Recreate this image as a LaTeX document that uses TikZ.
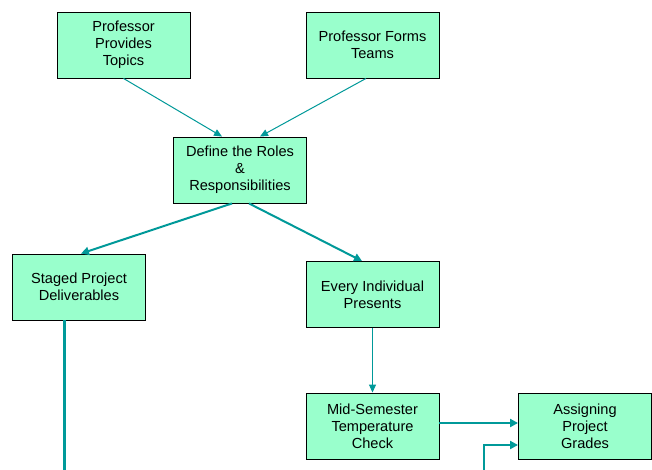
\documentclass[tikz,border=0pt]{standalone}
\usepackage{fontspec}
\setmainfont{Liberation Sans}
\usetikzlibrary{arrows.meta}
\definecolor{boxfill}{RGB}{153,255,204}
\definecolor{teal2}{RGB}{0,153,153}
\begin{document}
\begin{tikzpicture}[x=1pt,y=-1pt,
  box/.style={draw=black,line width=0.9pt,fill=boxfill,minimum width=133pt,minimum height=66pt,
    inner sep=0pt,align=center,font=\fontsize{14.6pt}{17pt}\selectfont},
  thinarr/.style={draw=teal2,line width=1pt,-{Triangle[length=8pt,width=7pt]}},
  thickarr/.style={draw=teal2,line width=2pt,-{Triangle[length=8pt,width=8pt]}},
  thickline/.style={draw=teal2,line width=2.2pt}]
\fill[white] (0,0) rectangle (652,470);
\useasboundingbox (0,0) rectangle (652,470);
\node[box] (A) at (123.5,45) {Professor\\Provides\\Topics};
\node[box] (B) at (372.5,45) {Professor Forms\\Teams};
\node[box] (C) at (240,170) {Define the Roles\\\&\\Responsibilities};
\node[box] (D) at (79,287) {Staged Project\\Deliverables};
\node[box] (E) at (372.5,294.5) {Every Individual\\Presents};
\node[box] (F) at (372.5,426) {Mid-Semester\\Temperature\\Check};
\node[box] (G) at (585,426) {Assigning\\Project\\Grades};
\coordinate (dEnd) at (64.5,470);
\coordinate (gIn) at (483.5,470);
\draw[thinarr] (A.south) -- ([xshift=-18pt]C.north);
\draw[thinarr] ([xshift=-6.5pt]B.south) -- ([xshift=20pt]C.north);
\draw[thickarr] ([xshift=-8pt]C.south) -- ([xshift=2pt]D.north);
\draw[thickarr] ([xshift=9pt]C.south) -- ([xshift=-10.5pt]E.north);
\draw[thinarr] (E.south) -- (F.north);
\draw[thickarr] ([yshift=3pt]F.east) -- ([yshift=3pt]G.west);
\draw[thickarr] (gIn) |- ([yshift=-19pt]G.west);
\draw[thickline] (D.south -| dEnd) -- (dEnd);
\end{tikzpicture}
\end{document}
